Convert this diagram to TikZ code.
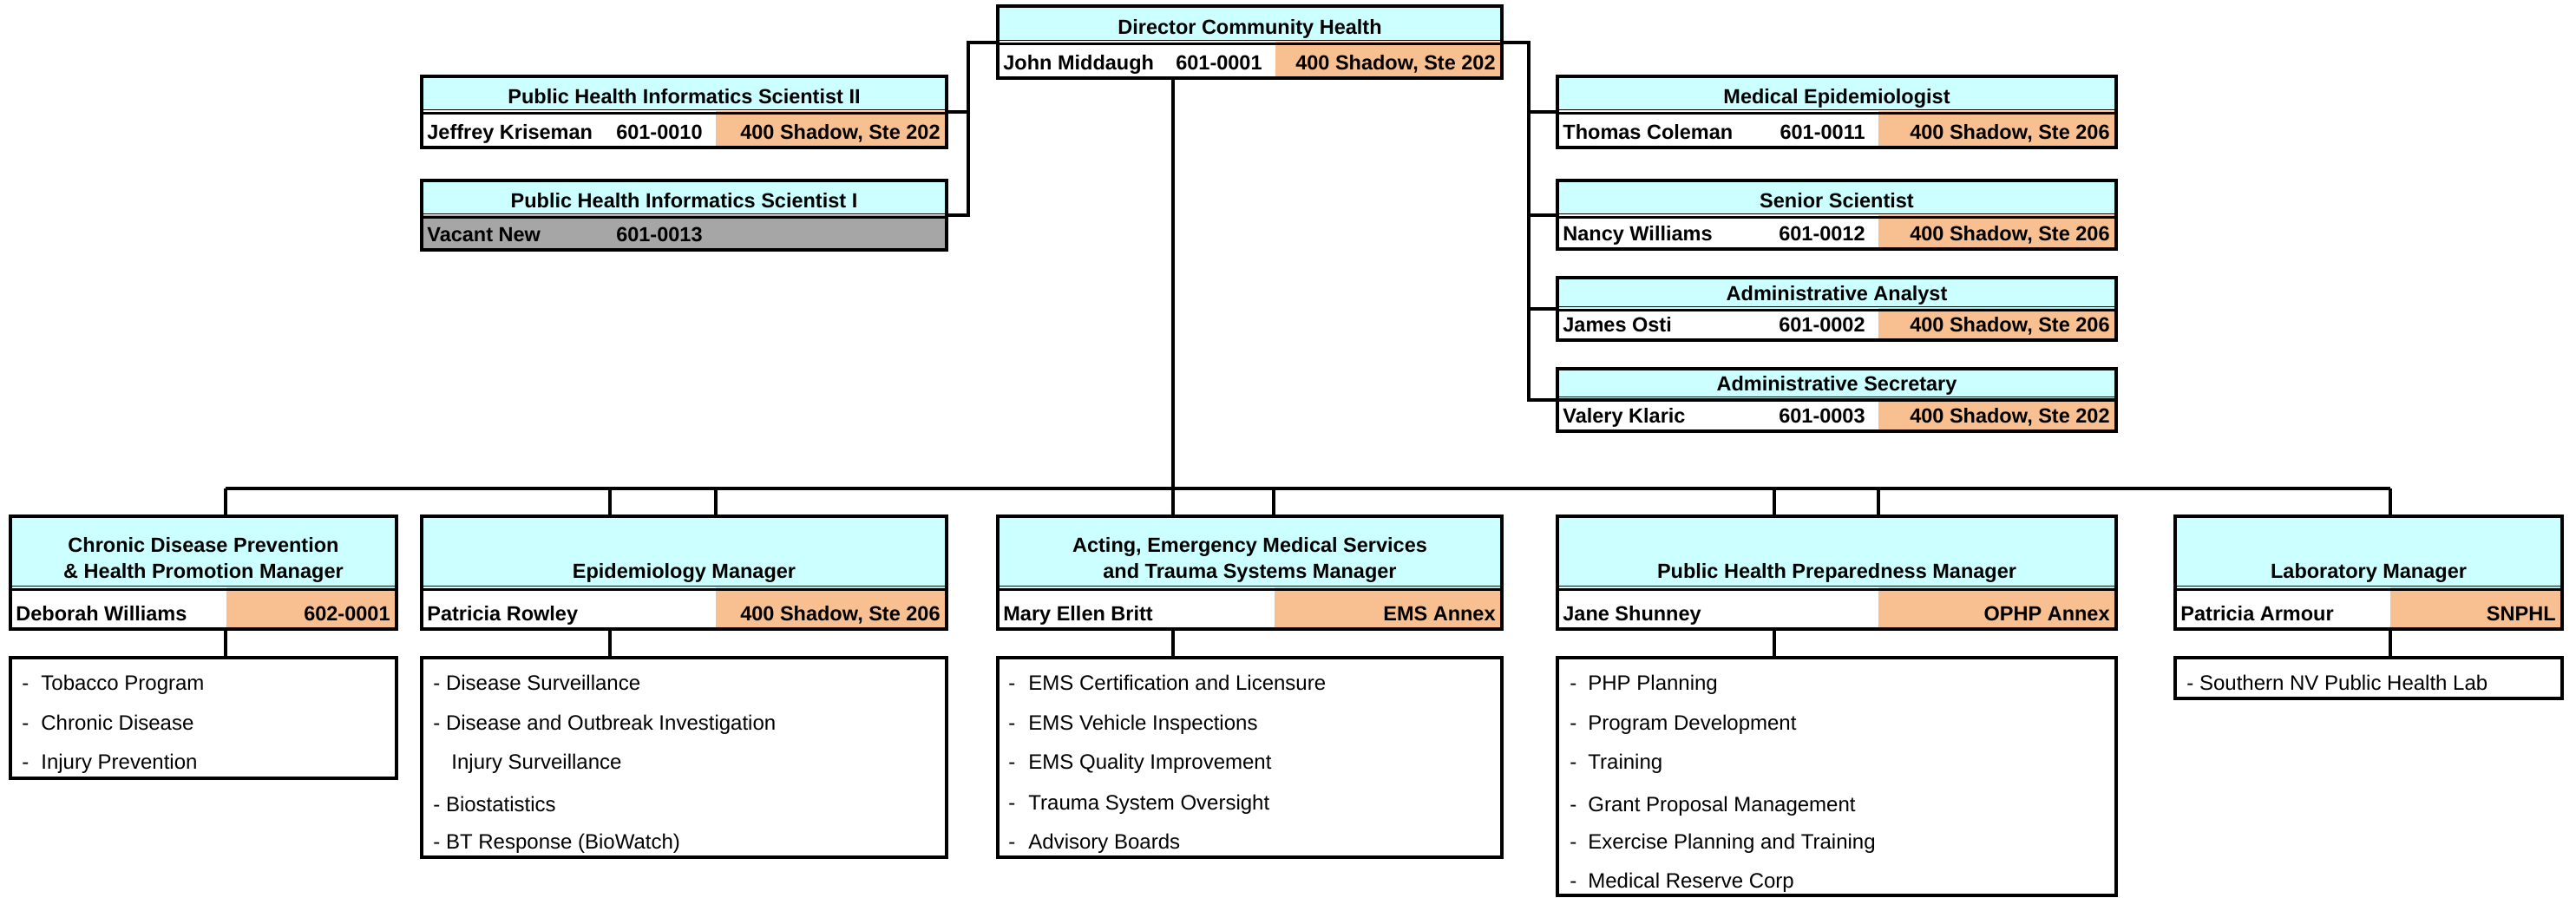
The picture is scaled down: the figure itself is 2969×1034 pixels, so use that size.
\documentclass[tikz,border=0pt]{standalone}
\usepackage{fontspec}
\setmainfont{Liberation Sans}
\usetikzlibrary{calc}

\definecolor{cellcyan}{RGB}{204,255,255}
\definecolor{celltan}{RGB}{248,192,144}
\definecolor{cellgray}{RGB}{166,166,166}

\tikzset{
  cell/.style={draw=none, inner sep=0pt, outer sep=0pt, anchor=north west},
  personcell/.style={fill=white},
  placecell/.style={fill=celltan},
  frame/.style={draw=black, line width=2pt, inner sep=0pt, outer sep=0pt, anchor=north west},
  conn/.style={draw=black, line width=2pt},
  rulethin/.style={line width=0.5pt},
  rulethick/.style={line width=1.5pt},
  ttl/.style={font=\bfseries\fontsize{11.75}{15}\selectfont, inner sep=0pt, align=center},
  lbl/.style={font=\bfseries\fontsize{11.75}{14}\selectfont, inner sep=0pt},
  item/.style={font=\fontsize{12}{14}\selectfont, inner sep=0pt, anchor=base west},
}

% a plain rectangle given by its left, top, right and bottom edges (in px)
\newcommand\cellnode[6]{%
  \node[cell, #1, minimum width={(#5-#3)*0.5pt}, minimum height={(#6-#4)*0.5pt}] (#2) at (#3,#4) {};}

% position box: name, left, top, right, divider, bottom, start of the place cell
\newcommand\orgbox[7]{%
  \cellnode{fill=cellcyan}{#1-t}{#2}{#3}{#4}{#5}
  \cellnode{personcell}{#1-n}{#2}{#5}{#7}{#6}
  \cellnode{placecell}{#1-o}{#7}{#5}{#4}{#6}
  \draw[rulethin] (#2,{#5-1.5}) -- (#4,{#5-1.5});
  \draw[rulethick] (#2,{#5+2.5}) -- (#4,{#5+2.5});
  \node[frame, minimum width={(#4-#2)*0.5pt}, minimum height={(#6-#3)*0.5pt}] (#1) at (#2,#3) {};}

% list box under a manager: name, left, top, right, bottom
\newcommand\listbox[5]{%
  \node[frame, fill=white, minimum width={(#4-#2)*0.5pt}, minimum height={(#5-#3)*0.5pt}] (#1) at (#2,#3) {};}

\newcommand\toptitle[2]{%
  \node[ttl, anchor=base] (#1-title) at ([yshift=4.5pt]#1-t.south) {#2};}
\newcommand\lowtitle[2]{%
  \node[ttl, anchor=south, text depth=0pt] (#1-title) at ([yshift=5pt]#1-t.south) {#2};}
\newcommand\who[2]{%
  \node[lbl, anchor=base west] (#1-who) at ([xshift=3pt,yshift=5pt]#1-n.south west) {#2};}
\newcommand\ext[2]{%
  \node[lbl, anchor=base east] (#1-ext) at ([xshift=-7.5pt,yshift=5pt]#1-o.south west) {#2};}
\newcommand\where[2]{%
  \node[lbl, anchor=base east] (#1-where) at ([xshift=-3.5pt,yshift=5pt]#1-o.south east) {#2};}
\newcommand\dashgap[1]{\makebox[#1][l]{-}}

\begin{document}
\begin{tikzpicture}[x=0.5pt, y=-0.5pt]
\useasboundingbox (0,0) rectangle (2969,1034);

% ---------- connector geometry ----------
\coordinate (lspine) at (1116,0);
\coordinate (rspine) at (1762,0);
\coordinate (trunk) at (1352,563);
\coordinate (chronic-up) at (260,563);
\coordinate (epi-up-a) at (703,563);
\coordinate (epi-up-b) at (825,563);
\coordinate (ems-up) at (1468,563);
\coordinate (php-up-a) at (2045,563);
\coordinate (php-up-b) at (2165,563);
\coordinate (lab-up) at (2755,563);

% ---------- boxes ----------
\orgbox{dir}{1150}{7}{1731}{48}{90}{1470}
\orgbox{phtwo}{486}{88}{1091}{128}{170}{825}
\begin{scope}[personcell/.style={fill=cellgray}, placecell/.style={fill=cellgray}]
\orgbox{phone}{486}{208}{1091}{248}{288}{825}
\end{scope}
\orgbox{medepi}{1795}{88}{2439}{128}{170}{2165}
\orgbox{senior}{1795}{208}{2439}{248}{287}{2165}
\orgbox{analyst}{1795}{320}{2439}{355}{392}{2165}
\orgbox{secretary}{1795}{425}{2439}{459}{497}{2165}

\orgbox{chronic}{12}{595}{457}{677}{725}{261}
\orgbox{epi}{486}{595}{1091}{677}{725}{825}
\orgbox{ems}{1150}{595}{1731}{677}{725}{1469}
\orgbox{php}{1795}{595}{2439}{677}{725}{2165}
\orgbox{lab}{2507}{595}{2953}{677}{725}{2755}

\listbox{chronic-sub}{12}{758}{457}{897}
\listbox{epi-sub}{486}{758}{1091}{988}
\listbox{ems-sub}{1150}{758}{1731}{988}
\listbox{php-sub}{1795}{758}{2439}{1032}
\listbox{lab-sub}{2507}{758}{2953}{805}

% ---------- connectors ----------
\draw[conn] (dir.west) -| (lspine |- phone.east) -- (phone.east);
\draw[conn] (phtwo.east) -- (lspine |- phtwo.east);
\draw[conn] (dir.east) -| (rspine |- secretary.east) -- (secretary.east);
\draw[conn] (medepi.west) -- (rspine |- medepi.west);
\draw[conn] (senior.west) -- (rspine |- senior.west);
\draw[conn] (analyst.west) -- (rspine |- analyst.west);
\draw[conn] (trunk |- dir.south) -- (trunk |- ems.north);
\draw[conn] (chronic-up) -- (lab-up);
\draw[conn] (chronic-up) -- (chronic-up |- chronic.north);
\draw[conn] (epi-up-a) -- (epi-up-a |- epi.north);
\draw[conn] (epi-up-b) -- (epi-up-b |- epi.north);
\draw[conn] (ems-up) -- (ems-up |- ems.north);
\draw[conn] (php-up-a) -- (php-up-a |- php.north);
\draw[conn] (php-up-b) -- (php-up-b |- php.north);
\draw[conn] (lab-up) -- (lab-up |- lab.north);
\draw[conn] (chronic.south -| chronic-up) -- (chronic-sub.north -| chronic-up);
\draw[conn] (epi.south -| epi-up-a) -- (epi-sub.north -| epi-up-a);
\draw[conn] (ems.south -| trunk) -- (ems-sub.north -| trunk);
\draw[conn] (php.south -| php-up-a) -- (php-sub.north -| php-up-a);
\draw[conn] (lab.south -| lab-up) -- (lab-sub.north -| lab-up);

% ---------- texts: upper positions ----------
\toptitle{dir}{Director Community Health}
\who{dir}{John Middaugh}\ext{dir}{601-0001}\where{dir}{400 Shadow, Ste 202}

\toptitle{phtwo}{Public Health Informatics Scientist II}
\who{phtwo}{Jeffrey Kriseman}\ext{phtwo}{601-0010}\where{phtwo}{400 Shadow, Ste 202}

\toptitle{phone}{Public Health Informatics Scientist I}
\who{phone}{Vacant New}\ext{phone}{601-0013}

\toptitle{medepi}{Medical Epidemiologist}
\who{medepi}{Thomas Coleman}\ext{medepi}{601-0011}\where{medepi}{400 Shadow, Ste 206}

\toptitle{senior}{Senior Scientist}
\who{senior}{Nancy Williams}\ext{senior}{601-0012}\where{senior}{400 Shadow, Ste 206}

\toptitle{analyst}{Administrative Analyst}
\who{analyst}{James Osti}\ext{analyst}{601-0002}\where{analyst}{400 Shadow, Ste 206}

\toptitle{secretary}{Administrative Secretary}
\who{secretary}{Valery Klaric}\ext{secretary}{601-0003}\where{secretary}{400 Shadow, Ste 202}

% ---------- texts: managers ----------
\lowtitle{chronic}{Chronic Disease Prevention\\\& Health Promotion Manager}
\who{chronic}{Deborah Williams}\where{chronic}{602-0001}

\lowtitle{epi}{Epidemiology Manager}
\who{epi}{Patricia Rowley}\where{epi}{400 Shadow, Ste 206}

\lowtitle{ems}{Acting, Emergency Medical Services\\and Trauma Systems Manager}
\who{ems}{Mary Ellen Britt}\where{ems}{EMS Annex}

\lowtitle{php}{Public Health Preparedness Manager}
\who{php}{Jane Shunney}\where{php}{OPHP Annex}

\lowtitle{lab}{Laboratory Manager}
\who{lab}{Patricia Armour}\where{lab}{SNPHL}

% ---------- program lists ----------
\node[item] (chronic-i1) at (25,795) {\dashgap{11pt}Tobacco Program};
\node[item] (chronic-i2) at (25,841) {\dashgap{11pt}Chronic Disease};
\node[item] (chronic-i3) at (25,886) {\dashgap{11pt}Injury Prevention};

\node[item] (epi-i1) at (499,795) {- Disease Surveillance};
\node[item] (epi-i2) at (499,841) {- Disease and Outbreak Investigation};
\node[item] (epi-i3) at (520,886) {Injury Surveillance};
\node[item] (epi-i4) at (499,935) {- Biostatistics};
\node[item] (epi-i5) at (499,978) {- BT Response (BioWatch)};

\node[item] (ems-i1) at (1162,795) {\dashgap{11.5pt}EMS Certification and Licensure};
\node[item] (ems-i2) at (1162,841) {\dashgap{11.5pt}EMS Vehicle Inspections};
\node[item] (ems-i3) at (1162,886) {\dashgap{11.5pt}EMS Quality Improvement};
\node[item] (ems-i4) at (1162,933) {\dashgap{11.5pt}Trauma System Oversight};
\node[item] (ems-i5) at (1162,978) {\dashgap{11.5pt}Advisory Boards};

\node[item] (php-i1) at (1809,795) {\dashgap{10.5pt}PHP Planning};
\node[item] (php-i2) at (1809,841) {\dashgap{10.5pt}Program Development};
\node[item] (php-i3) at (1809,886) {\dashgap{10.5pt}Training};
\node[item] (php-i4) at (1809,935) {\dashgap{10.5pt}Grant Proposal Management};
\node[item] (php-i5) at (1809,978) {\dashgap{10.5pt}Exercise Planning and Training};
\node[item] (php-i6) at (1809,1023) {\dashgap{10.5pt}Medical Reserve Corp};

\node[item] (lab-i1) at (2520,795) {- Southern NV Public Health Lab};
\end{tikzpicture}
\end{document}
